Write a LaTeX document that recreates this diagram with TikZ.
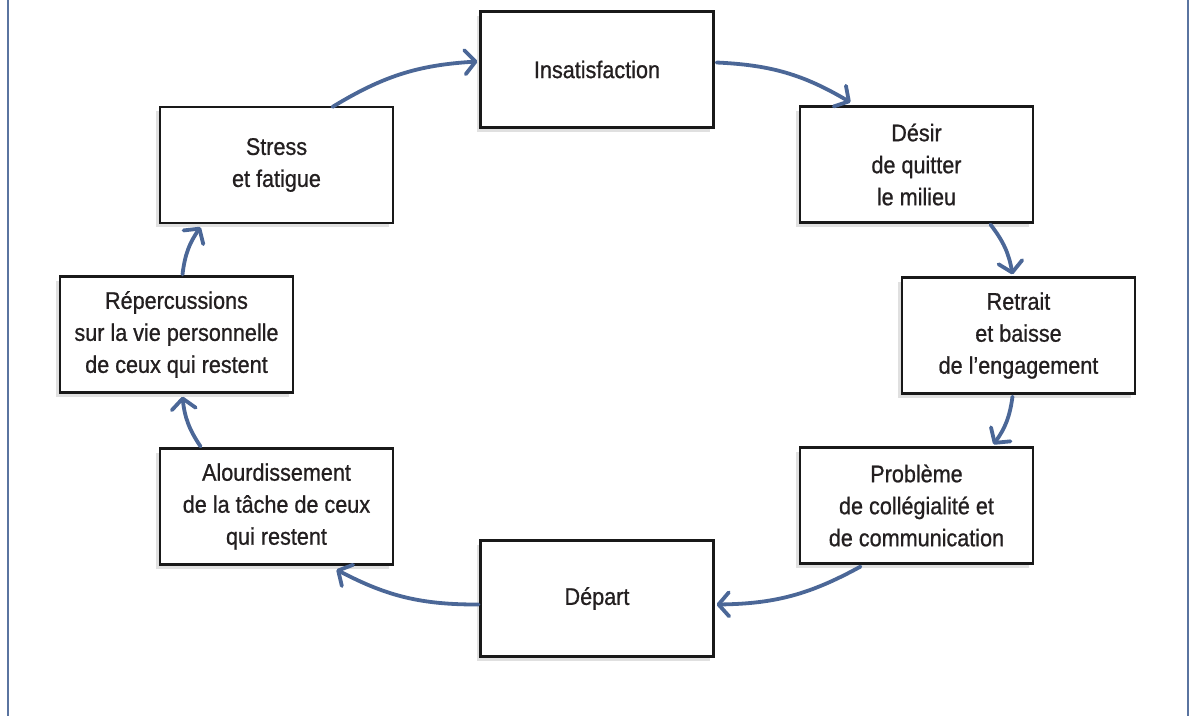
\documentclass[tikz,border=0pt]{standalone}
\usepackage{fontspec}
\setmainfont[FakeStretch=0.9,FakeBold=0.8]{Liberation Sans}
\usetikzlibrary{arrows.meta,shadows,calc}
\definecolor{arrowblue}{HTML}{4B6797}
\definecolor{framecol}{HTML}{5A74A0}
\definecolor{txt}{HTML}{231F20}
\tikzset{
  stepbox/.style={draw=black!90, line width=2.2pt, fill=white, minimum width=233pt, minimum height=116pt,
    align=center, text=txt, font=\fontsize{24}{32}\selectfont, inner sep=0pt,
    drop shadow={shadow xshift=-4pt, shadow yshift=-4pt, fill=black, opacity=0.12}},
  flow/.style={draw=arrowblue, line width=3.8pt, line cap=round,
    -{Straight Barb[length=7pt,width=16pt,round,scale=1.5]}}
}
\begin{document}
\begin{tikzpicture}[x=1pt,y=-1pt]
\useasboundingbox (0,0) rectangle (1192,716);
\draw[framecol, line width=2pt] (8,0) -- (8,716);
\draw[framecol, line width=2pt] (1188,0) -- (1188,716);

\node[stepbox] (ins) at (597,69.5) {Insatisfaction};
\node[stepbox] (des) at (916.5,164.5) {Désir\\de quitter\\le milieu};
\node[stepbox] (ret) at (1018.5,335.5) {Retrait\\et baisse\\de l’engagement};
\node[stepbox] (pro) at (916.5,505.5) {Problème\\de collégialité et\\de communication};
\node[stepbox] (dep) at (597,598.5) {Départ};
\node[stepbox] (alo) at (276.5,506.5) {Alourdissement\\de la tâche de ceux\\qui restent};
\node[stepbox] (rep) at (176.5,334.5) {Répercussions\\sur la vie personnelle\\de ceux qui restent};
\node[stepbox] (str) at (276.5,165) {Stress\\et fatigue};

\draw[flow] ($(str.north)+(56,1)$) to[bend left=14] ($(ins.west)+(-2,-8)$);
\draw[flow] ($(ins.east)+(2,-7)$) to[bend left=14] ($(des.north)+(-66,-3)$);
\draw[flow] ($(des.south)+(74,1)$) to[bend left=14] ($(ret.north)+(-6,-2)$);
\draw[flow] ($(ret.south)+(-6,2)$) to[bend left=14] ($(pro.north)+(77,-2)$);
\draw[flow] ($(pro.south)+(-56,2)$) to[bend left=14] ($(dep.east)+(2,6)$);
\draw[flow] ($(dep.west)+(-1,6)$) to[bend left=14] ($(alo.south)+(60,4)$);
\draw[flow] ($(alo.north)+(-76,-1)$) to[bend left=14] ($(rep.south)+(6,3)$);
\draw[flow] ($(rep.north)+(6,-1)$) to[bend left=14] ($(str.south)+(-76,3)$);
\end{tikzpicture}
\end{document}
